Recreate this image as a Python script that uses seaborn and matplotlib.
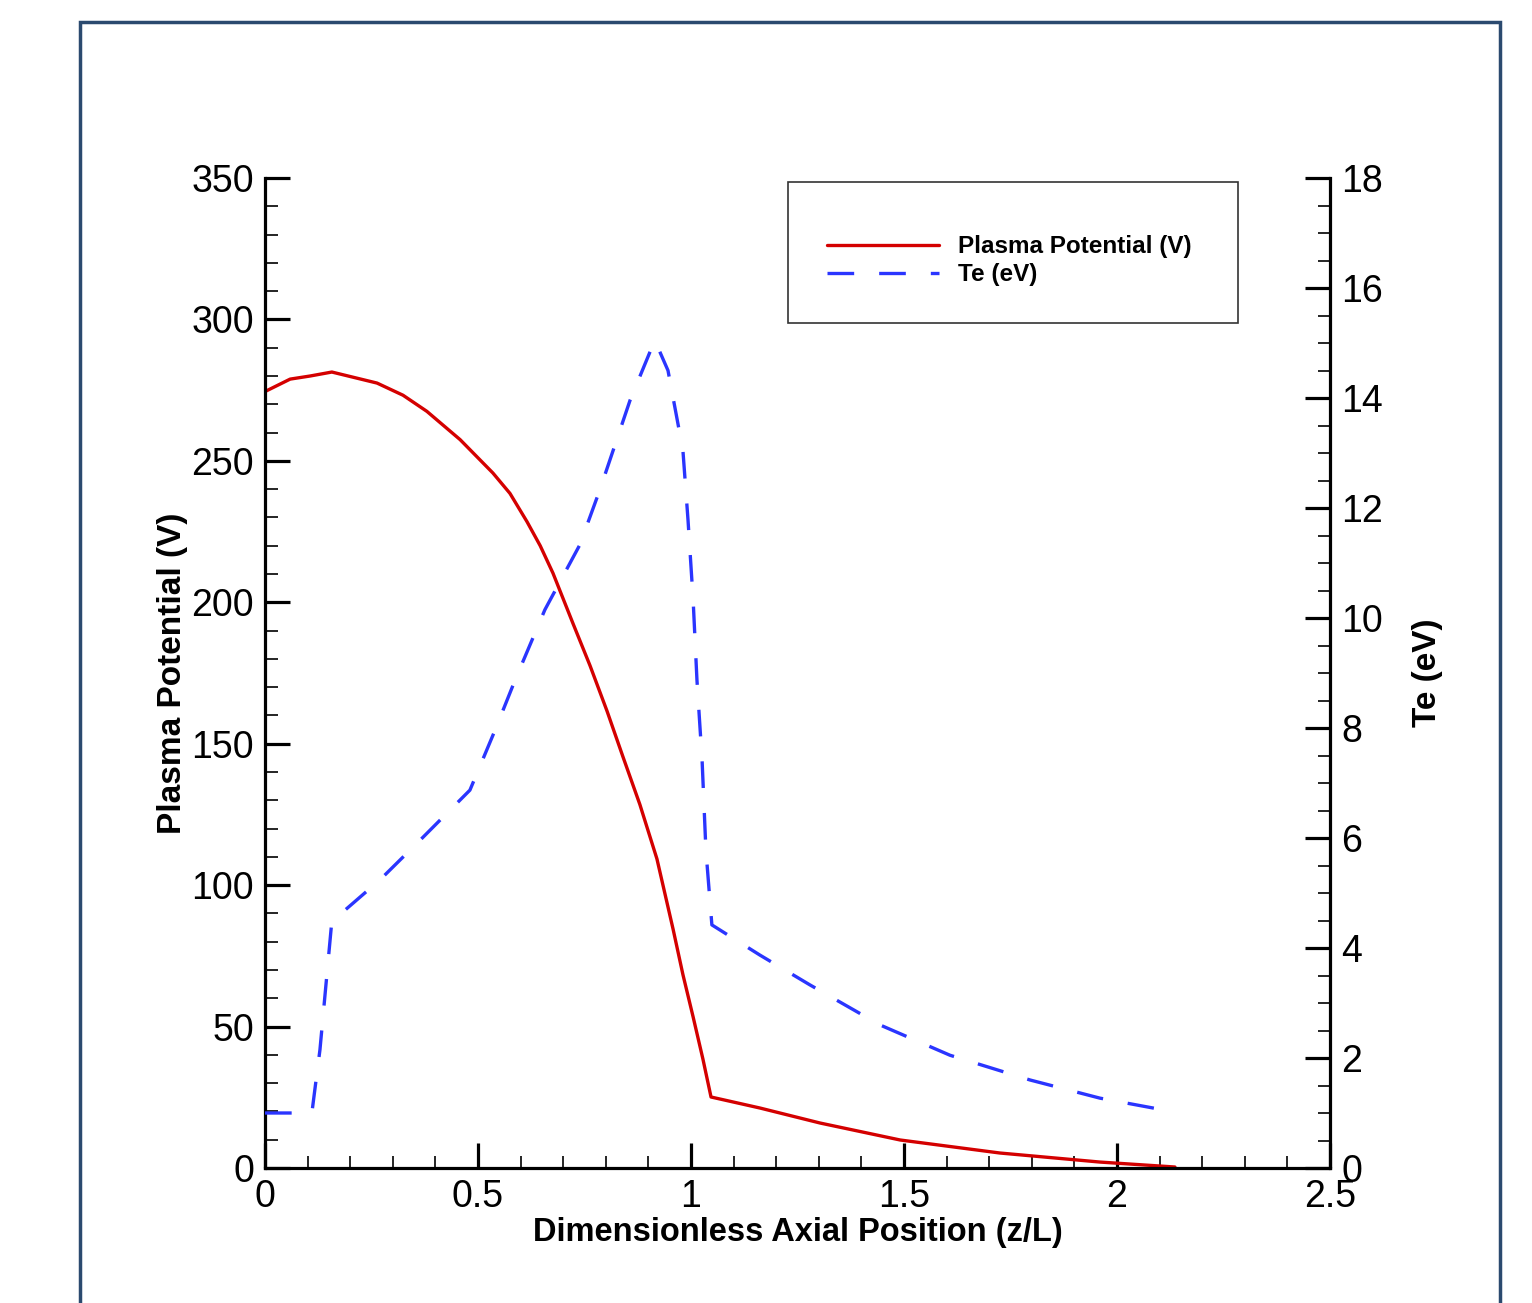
import numpy as np
import pandas as pd
import matplotlib
matplotlib.use("Agg")
import matplotlib.pyplot as plt
from matplotlib.patches import Rectangle
from matplotlib.ticker import MultipleLocator
import seaborn as sns

# Plasma potential (V) vs dimensionless axial position
pp_z = [0.0, 0.059, 0.106, 0.157, 0.263, 0.324, 0.380, 0.458, 0.535, 0.575, 0.615, 0.646,
        0.676, 0.723, 0.763, 0.803, 0.840, 0.880, 0.920, 0.958, 0.981, 1.005, 1.028, 1.047,
        1.162, 1.303, 1.491, 1.725, 1.96, 2.136]
pp_v = [274.5, 278.9, 280.0, 281.4, 277.5, 273.2, 267.5, 257.5, 245.7, 238.5, 228.5, 220.0,
        210.3, 192.5, 177.6, 161.5, 145.5, 128.5, 109.3, 84.4, 68.4, 53.4, 38.5, 25.1,
        21.2, 15.9, 9.9, 5.3, 2.1, 0.35]

# Electron temperature (eV)
te_z = [0.0, 0.11, 0.129, 0.157, 0.188, 0.27, 0.364, 0.481, 0.54, 0.587, 0.657, 0.739,
        0.786, 0.857, 0.915, 0.946, 0.981, 0.993, 1.005, 1.014, 1.026, 1.035, 1.049,
        1.162, 1.279, 1.444, 1.608, 1.796, 1.96, 2.113]
te_v = [1.0, 1.0, 2.15, 4.5, 4.69, 5.24, 5.96, 6.87, 7.96, 8.87, 10.15, 11.33,
        12.33, 13.96, 15.05, 14.5, 13.05, 11.78, 10.33, 8.87, 7.42, 5.78, 4.42,
        3.87, 3.33, 2.6, 2.05, 1.6, 1.27, 1.05]

x_ticks = [0, 0.5, 1, 1.5, 2, 2.5]
x_labels = ["0", "0.5", "1", "1.5", "2", "2.5"]

sns.set_style("ticks")
plt.rcParams['font.family'] = ['Liberation Sans', 'DejaVu Sans']
plt.rcParams['text.color'] = 'black'
plt.rcParams['axes.labelcolor'] = 'black'

fig = plt.figure(figsize=(15.32, 13.03), dpi=100)
ax = fig.add_axes([265/1532, 1-1168/1303, (1330-265)/1532, (1168-178)/1303])
ax2 = ax.twinx()

df_pp = pd.DataFrame({"z": pp_z, "v": pp_v})
df_te = pd.DataFrame({"z": te_z, "t": te_v})

sns.lineplot(data=df_pp, x="z", y="v", ax=ax, color="#d40000", lw=2.4,
             label="Plasma Potential (V)", legend=False, sort=False)
sns.lineplot(data=df_te, x="z", y="t", ax=ax2, color="#2a35ff", lw=2.4,
             label="Te (eV)", legend=False, sort=False)
ax2.lines[0].set_dashes((8, 7.5))

ax.set_xlim(0, 2.5)
ax.set_ylim(0, 350)
ax2.set_ylim(0, 18)

ax.set_xticks(x_ticks)
ax.set_xticklabels(x_labels)
ax.xaxis.set_minor_locator(MultipleLocator(0.1))
ax.yaxis.set_major_locator(MultipleLocator(50))
ax.yaxis.set_minor_locator(MultipleLocator(10))
ax2.yaxis.set_major_locator(MultipleLocator(2))
ax2.yaxis.set_minor_locator(MultipleLocator(0.5))

for a in (ax, ax2):
    a.spines["top"].set_visible(False)
    for s in a.spines.values():
        s.set_linewidth(2.3)
        s.set_color("black")
    a.tick_params(which="major", direction="in", length=18, width=2.3, labelsize=27,
                  pad=8, colors="black", labelcolor="black")
    a.tick_params(which="minor", direction="in", length=9, width=1.2, colors="black")
ax.spines["right"].set_visible(False)
ax2.spines["left"].set_visible(False)
ax2.spines["bottom"].set_visible(False)
ax.tick_params(axis="x", which="both", top=False)

ax.set_xlabel("Dimensionless Axial Position (z/L)", fontsize=23.5, fontweight="bold",
              labelpad=1, color="black")
ax.set_ylabel("Plasma Potential (V)", fontsize=24, fontweight="bold", labelpad=2,
              color="black")
ax2.set_ylabel("Te (eV)", fontsize=24, fontweight="bold", labelpad=21, color="black")

# legend box
fig.patches.append(Rectangle((788/1532, 1-323/1303), (1238-788)/1532, (323-182)/1303,
                             transform=fig.transFigure, fill=False, ec="#333333", lw=1.2))
handles = [ax.lines[0], ax2.lines[0]]
leg = fig.legend(handles, ["Plasma Potential (V)", "Te (eV)"], loc="upper left",
                 bbox_to_anchor=(815/1532, 1-223/1303), frameon=False, borderpad=0,
                 handlelength=4.6, handletextpad=0.8, labelspacing=0.22,
                 prop={"weight": "bold", "size": 17.5})
for t in leg.get_texts():
    t.set_color("black")

# outer frame
fig.patches.append(Rectangle((80/1532, -0.02), (1500-80)/1532, 1.02-22/1303,
                             transform=fig.transFigure, fill=False, ec="#2b4a6f", lw=2.5))

fig.savefig("out.png", dpi=100)
